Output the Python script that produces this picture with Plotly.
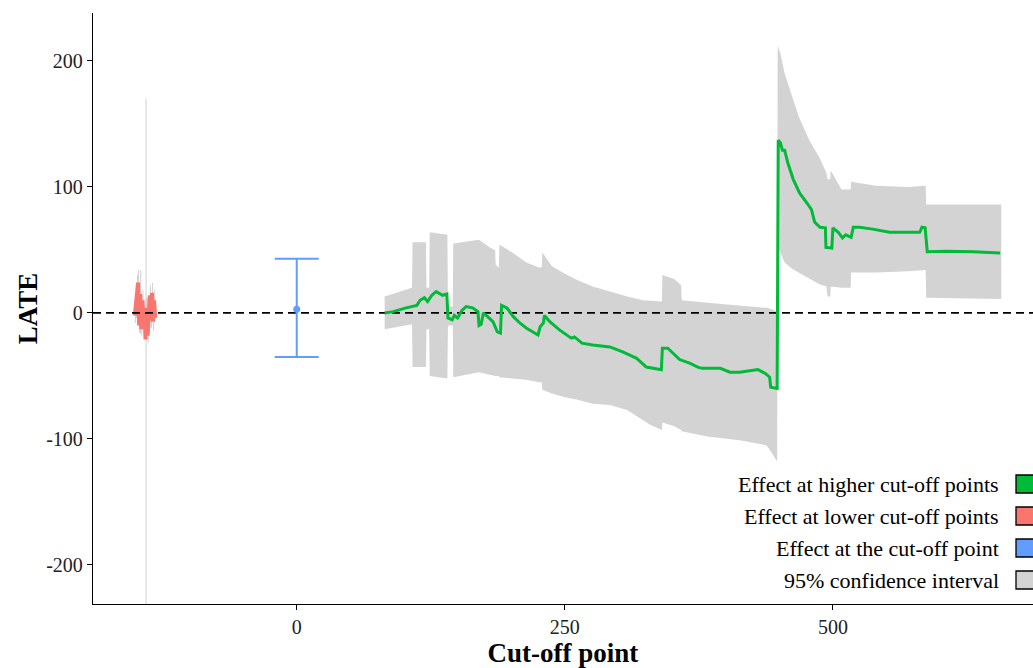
import plotly.graph_objects as go

# ---------------- data ----------------
# effect at higher cut-off points (green)
high_x = [82, 90, 102, 112, 115, 119, 122, 126, 130, 136, 140, 141, 145, 147, 150, 154, 158, 164, 169, 170,
          172, 174, 178, 183, 187, 190, 191, 196, 202, 208, 214, 225, 227, 230, 231, 236, 245, 256, 259, 266,
          276, 292, 304, 317, 326, 332, 340, 341, 346, 351, 357, 367, 374, 378, 395, 404, 413, 430, 437, 441,
          442, 448, 449, 451, 453, 455, 458, 463, 469, 476, 480, 483, 488, 493, 493.5, 499, 500, 505, 509, 512,
          517, 519, 525, 537, 553, 569, 581, 583, 586, 588, 606, 631, 656]
high_est = [0, 1, 4, 6, 10, 12, 9, 14, 17, 14, 15, -4, -5.5, -2, -4, 2, 5, 4, 1, -10,
            -9, 0, -3, -7, -15, -16, 6, 4, -3, -8, -12, -17.5, -11, -8, -2, -7, -13.5, -20, -19, -24,
            -25.5, -27, -31, -36, -43, -44, -45, -28, -28, -32, -37, -40, -43, -44, -44, -47, -47, -45, -48, -51,
            -59, -60, 137, 135, 129, 129, 119, 106, 95, 87, 82, 72, 68, 67.5, 52, 51.5, 67.5, 64, 59.5, 62,
            60, 68, 68, 66.5, 64, 64, 64, 68, 67.5, 48.5, 49, 48.5, 47.6]

# 95% confidence interval of the higher cut-off effects
ci_x = [82, 107.5, 108, 120.5, 121, 123.5, 124, 140.5, 141, 145.5, 146, 170, 180, 185, 185.5, 188.5, 189,
        201, 214, 226, 228.5, 229, 238, 250, 262, 276, 292, 308, 323, 330, 340.5, 341, 352, 358.5, 359,
        383, 413, 438, 443, 448, 448.5, 451, 455, 462, 468, 478, 487, 494, 495, 497.5, 498, 508, 516.5,
        517, 540, 570, 586.5, 587, 657]
ci_lo = [-13, -9, -43, -43, -13, -13, -50, -52, -10, -10, -51, -47, -49, -50, -50, -50, -51,
         -52, -53, -55, -55, -61, -64, -67, -69, -72, -73, -77, -85, -89, -93, -87, -90, -93, -94,
         -98, -101, -105, -111, -118, 52, 48, 40, 35, 32, 27, 23, 21, 13, 13, 21, 20, 20,
         32, 32, 33, 34, 12, 11]
ci_hi = [13, 20, 56, 56, 20, 20, 64, 62, 5, 5, 55, 58, 52, 50, 38, 36, 54,
         48, 40, 36, 36, 48, 37, 31, 26, 21, 17, 13, 10, 9.5, 9, 30, 27, 22, 10,
         8, 6, 4, 3, 1, 212, 206, 190, 171, 156, 137, 124, 111, 106, 106, 113, 98, 98,
         104, 101, 100, 101, 86, 86]

# effect at lower cut-off points (red) with its confidence interval
low_x = [-151, -150, -149, -148, -147, -146, -145, -144, -143, -142, -141, -140, -139, -138, -137, -136,
         -135, -134, -133, -132]
low_est = [-2, 8, 22, 24, -10, 15, -13, 10, -5, 2, -21, 4, -18, -2, 14, -6, 16, -7, 10, -4]
low_lo = [-8, -4, 10, 12, -16, -16, -18, 2, -12, -6, -232, -4, -24, -8, 6, -12, 8, -14, 2, -10]
low_hi = [6, 16, 30, 34, -2, 34, -4, 18, 2, 10, 170, 12, -10, 4, 22, 2, 24, 0, 18, 2]

# effect at the cut-off point (blue)
cut_x = [0]
cut_est = [3]
cut_lo = [-35]
cut_hi = [43]

x_ticks = [0, 250, 500]
x_tick_text = ["0", "250", "500"]
y_ticks = [-200, -100, 0, 100, 200]
y_tick_text = ["-200", "-100", "0", "100", "200"]
X_RANGE = [-190, 686.6]
Y_RANGE = [-231, 238]

legend_labels = ["Effect at higher cut-off points", "Effect at lower cut-off points",
                 "Effect at the cut-off point", "95% confidence interval"]

GREEN = "#00BA38"
RED = "#F8766D"
BLUE = "#619CFF"
GREY = "#D3D3D3"
legend_colors = [GREEN, RED, BLUE, GREY]

FONT = "Liberation Serif, Times New Roman, serif"

# ---------------- figure ----------------
fig = go.Figure()

# CI band for higher cut-offs
fig.add_trace(go.Scatter(x=ci_x, y=ci_lo, mode="lines", line=dict(width=0),
                         hoverinfo="skip", showlegend=False))
fig.add_trace(go.Scatter(x=ci_x, y=ci_hi, mode="lines", line=dict(width=0),
                         fill="tonexty", fillcolor=GREY, hoverinfo="skip", showlegend=False))

# CI band for lower cut-offs
fig.add_trace(go.Scatter(x=low_x, y=low_lo, mode="lines", line=dict(width=0, shape="hv"),
                         hoverinfo="skip", showlegend=False))
fig.add_trace(go.Scatter(x=low_x, y=low_hi, mode="lines", line=dict(width=0, shape="hv"),
                         fill="tonexty", fillcolor=GREY, hoverinfo="skip", showlegend=False))

# red estimates
fig.add_trace(go.Scatter(x=low_x, y=low_est, mode="lines", line=dict(color=RED, width=4),
                         showlegend=False))

# dashed zero reference line
fig.add_trace(go.Scatter(x=X_RANGE, y=[0, 0], mode="lines",
                         line=dict(color="black", width=1.6, dash="8px,5px"),
                         hoverinfo="skip", showlegend=False))

# green estimates
fig.add_trace(go.Scatter(x=high_x, y=high_est, mode="lines", line=dict(color=GREEN, width=3),
                         showlegend=False))

# blue point with error bar
fig.add_trace(go.Scatter(
    x=cut_x, y=cut_est, mode="markers",
    marker=dict(color=BLUE, size=7),
    error_y=dict(type="data", symmetric=False,
                 array=[h - e for h, e in zip(cut_hi, cut_est)],
                 arrayminus=[e - l for e, l in zip(cut_est, cut_lo)],
                 color=BLUE, thickness=2, width=22),
    showlegend=False))

# ---------------- manual legend (labels left, keys right) ----------------
W, H = 1033, 668
L, R, T, B = 93, 0, 13, 64
pw, ph = W - L - R, H - T - B


def px_x(p):
    return (p - L) / pw


def px_y(p):
    return (H - B - p) / ph


rows = [484, 516, 548, 580]
for lab, col, yy in zip(legend_labels, legend_colors, rows):
    fig.add_annotation(x=px_x(1001), y=px_y(yy), xref="paper", yref="paper",
                       text=lab, showarrow=False, xanchor="right", yanchor="middle",
                       font=dict(family=FONT, size=22, color="black"))
    fig.add_shape(type="rect", xref="paper", yref="paper",
                  x0=px_x(1016), x1=px_x(1040), y0=px_y(yy + 9), y1=px_y(yy - 9),
                  fillcolor=col, line=dict(color="black", width=1.3), layer="above")

fig.update_layout(
    width=W, height=H,
    margin=dict(l=L, r=R, t=T, b=B, autoexpand=False),
    paper_bgcolor="white", plot_bgcolor="white",
    font=dict(family=FONT, color="black"),
    showlegend=False,
)
fig.update_xaxes(range=X_RANGE, tickvals=x_ticks, ticktext=x_tick_text, ticks="outside", ticklen=5,
                 tickwidth=1.2, tickcolor="black", showline=True, linecolor="black", linewidth=1.3,
                 showgrid=False, zeroline=False, automargin=False,
                 tickfont=dict(family=FONT, size=20, color="#222"),
                 title=dict(text="<b>Cut-off point</b>", font=dict(family=FONT, size=27), standoff=4))
fig.update_yaxes(range=Y_RANGE, tickvals=y_ticks, ticktext=y_tick_text, ticks="outside", ticklen=5,
                 tickwidth=1.2, tickcolor="black", showline=True, linecolor="black", linewidth=1.3,
                 showgrid=False, zeroline=False, automargin=False,
                 tickfont=dict(family=FONT, size=20, color="#222"),
                 title=dict(text="<b>LATE</b>", font=dict(family=FONT, size=27), standoff=0))

fig.write_html("out.html", config={"displayModeBar": False},
               post_script="document.body.style.margin='0';document.body.style.padding='0';")
